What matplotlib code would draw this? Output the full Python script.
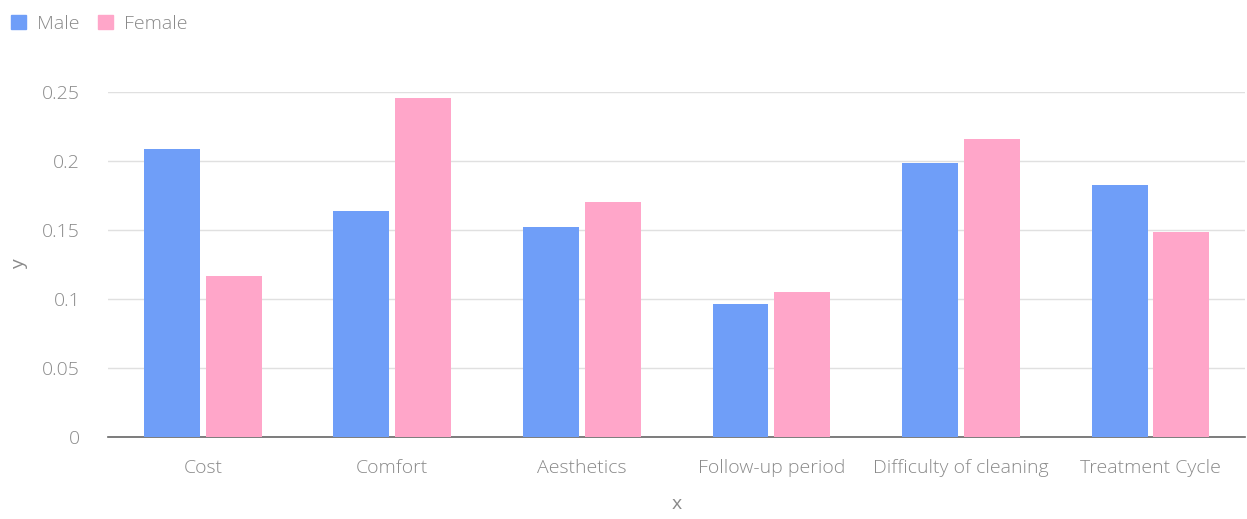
import numpy as np
import matplotlib
matplotlib.use("Agg")
from matplotlib import pyplot as plt
from matplotlib.patches import Patch

categories = ['Cost', 'Comfort', 'Aesthetics', 'Follow-up period',
              'Difficulty of cleaning', 'Treatment Cycle']
male = [0.2087, 0.1638, 0.1522, 0.0964, 0.1986, 0.1826]
female = [0.1167, 0.2457, 0.1703, 0.1051, 0.2160, 0.1486]

male_color = '#6f9ef8'
female_color = '#ffa6c9'
text_color = '#8a8a8a'

plt.rcParams['font.family'] = ['Open Sans', 'DejaVu Sans']
plt.rcParams['font.weight'] = 'light'

fig = plt.figure(figsize=(12.47, 5.19), dpi=100)
ax = fig.add_axes([0.0866, 0.158, 0.912, 0.665])

x = np.arange(len(categories))
w = 0.295
off = 0.163
ax.bar(x - off, male, width=w, color=male_color, zorder=3)
ax.bar(x + off, female, width=w, color=female_color, zorder=3)

ax.set_xlim(-0.5, len(categories) - 0.5)
ax.set_ylim(0, 0.25)
ax.set_yticks([0, 0.05, 0.1, 0.15, 0.2, 0.25])
ax.set_yticklabels(['0', '0.05', '0.1', '0.15', '0.2', '0.25'])
ax.set_xticks(x)
ax.set_xticklabels(categories)
ax.grid(axis='y', color='#e0e0e0', linewidth=1, zorder=0)
for s in ['top', 'right', 'left']:
    ax.spines[s].set_visible(False)
ax.spines['bottom'].set_color('#666666')
ax.spines['bottom'].set_linewidth(1.2)
ax.tick_params(axis='both', length=0, colors=text_color, labelsize=14)
ax.tick_params(axis='y', pad=20)
ax.tick_params(axis='x', pad=16)
ax.set_xlabel('x', color=text_color, fontsize=14, labelpad=13)
ax.set_ylabel('y', color=text_color, fontsize=14, labelpad=10)

handles = [Patch(color=male_color, label='Male'), Patch(color=female_color, label='Female')]
fig.legend(handles=handles, loc='upper left', bbox_to_anchor=(-0.005, 1.005), ncol=2,
           frameon=False, fontsize=14, labelcolor=text_color, handlelength=0.75,
           handleheight=0.75, handletextpad=0.55, columnspacing=1.0)

fig.savefig('out.png', dpi=100)
